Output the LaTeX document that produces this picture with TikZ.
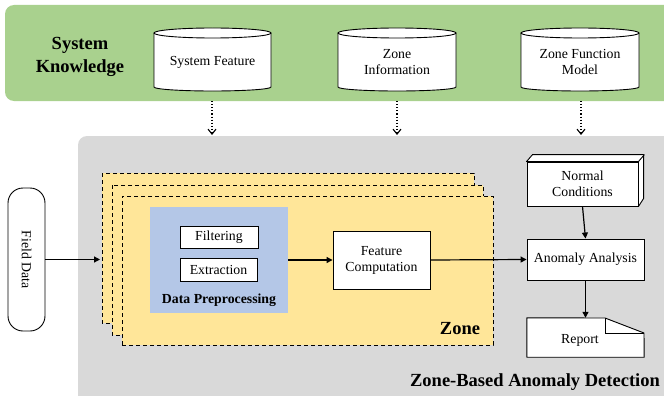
\documentclass[tikz,border=0pt]{standalone}
\usepackage{fontspec}
\setmainfont{Liberation Serif}
\usetikzlibrary{arrows.meta}
\definecolor{kgreen}{HTML}{A9D18E}
\definecolor{kgray}{HTML}{D9D9D9}
\definecolor{kyellow}{HTML}{FFE699}
\definecolor{kblue}{HTML}{B4C7E7}
\tikzset{
  every node/.style={font=\fontsize{13.8}{16}\selectfont, inner sep=0pt, align=center},
  titletext/.style={font=\fontsize{18.5}{23}\selectfont\bfseries},
  boxline/.style={draw=black, line width=0.9pt},
  plainbox/.style={boxline, fill=white},
  zonelayer/.style={draw=black, line width=0.9pt, dashed, dash pattern=on 4pt off 3pt, fill=kyellow},
  flow/.style={line width=1.2pt, -{Triangle[length=6pt,width=6pt]}},
  infoflow/.style={line width=1.1pt, dotted, -{Straight Barb[length=5pt,width=8pt,line width=1.1pt]}},
}
\newcommand{\kcyl}[4]{% left, right, top, bottom
  \fill[white] (#1,-#3-5) -- (#1,-#4+4) arc[start angle=180,end angle=360,x radius={(#2-#1)/2},y radius=4] -- (#2,-#3-5) arc[start angle=0,end angle=180,x radius={(#2-#1)/2},y radius=5] -- cycle;
  \draw[boxline] (#1,-#3-5) -- (#1,-#4+4) arc[start angle=180,end angle=360,x radius={(#2-#1)/2},y radius=4] -- (#2,-#3-5);
  \draw[boxline] ({(#1+#2)/2},-#3-5) ellipse[x radius={(#2-#1)/2},y radius=5];
}
\begin{document}
\begin{tikzpicture}[x=1pt,y=1pt]
\useasboundingbox (0,0) rectangle (664,-396);
\clip (0,0) rectangle (664,-396);
% System knowledge band
\fill[kgreen, rounded corners=9pt] (5,-5) rectangle (680,-101);
\node[titletext] (sk) at (80,-57) {System\\Knowledge};
\kcyl{154}{271}{28}{91}
\kcyl{338}{456}{28}{91}
\kcyl{521}{639}{28}{91}
\node (sf) at (212.5,-62) {System Feature};
\node (zi) at (397,-62) {Zone\\Information};
\node (zf) at (580,-62) {Zone Function\\Model};
\coordinate (sfb) at (212,-101);
\coordinate (zib) at (397,-101);
\coordinate (zfb) at (581,-101);
% Anomaly detection area
\fill[kgray, rounded corners=9pt] (78,-136) rectangle (680,-412);
\coordinate (sft) at (212,-135);
\coordinate (zit) at (397,-135);
\coordinate (zft) at (581,-135);
\draw[infoflow] (sfb) -- (sft);
\draw[infoflow] (zib) -- (zit);
\draw[infoflow] (zfb) -- (zft);
\node[titletext] (zbad) at (535,-382) {Zone-Based Anomaly Detection};
% Field data
\node[boxline, fill=white, rounded corners=15pt, minimum width=37pt, minimum height=143pt] (fd) at (26.5,-259.5) {};
\node[rotate=-90] (fdt) at (fd.center) {Field Data};
% Zone layers
\draw[zonelayer] (102,-173) rectangle (474,-323);
\draw[zonelayer] (112,-185) rectangle (483,-335);
\node[zonelayer, minimum width=371pt, minimum height=149pt] (zone) at (307.5,-270.5) {};
\node[titletext] (zonet) at (460,-329) {Zone};
% Data preprocessing
\node[fill=kblue, minimum width=138pt, minimum height=106pt] (dp) at (219,-260) {};
\node[font=\fontsize{13.8}{16}\selectfont\bfseries] (dpt) at (219,-300) {Data Preprocessing};
\node[plainbox, minimum width=78pt, minimum height=22pt] (filt) at (219,-237) {Filtering};
\node[plainbox, minimum width=77pt, minimum height=23pt] (extr) at (218.5,-269.5) {Extraction};
% Feature computation
\node[plainbox, minimum width=97pt, minimum height=58pt] (fc) at (381.5,-260) {Feature\\Computation};
% Right column
\node[plainbox, minimum width=117pt, minimum height=41pt] (aa) at (585.5,-259.5) {Anomaly Analysis};
\node[plainbox, minimum width=111pt, minimum height=44pt] (nc) at (582.5,-184) {};
\filldraw[boxline, fill=white, line join=round] (nc.north west) -- ++(6,7) -- ++(111,0) -- ++(0,-44) -- (nc.south east) -- (nc.north east) -- cycle;
\draw[boxline] (nc.north east) -- ++(6,7);
\node (nct) at (nc.center) {Normal\\Conditions};
\node[minimum width=117pt, minimum height=39pt] (rep) at (585.5,-337.5) {};
\filldraw[boxline, fill=white, line join=round] (rep.south west) -- (rep.north west) -- (605,-318) -- (644,-333) -- (rep.south east) -- cycle;
\draw[boxline] (605,-318) -- (605,-333) -- (644,-333);
\node (rept) at (580,-340) {Report};
% Flows
\coordinate (fdin) at (100,-259.5);
\draw[flow] (fd.east) -- (fdin);
\draw[flow] (dp.east) -- (fc.west);
\draw[flow] (fc.east) -- (aa.west);
\draw[flow] (nc.south) -- (aa.north);
\draw[flow] (aa.south) -- (rep.north);
\end{tikzpicture}
\end{document}
